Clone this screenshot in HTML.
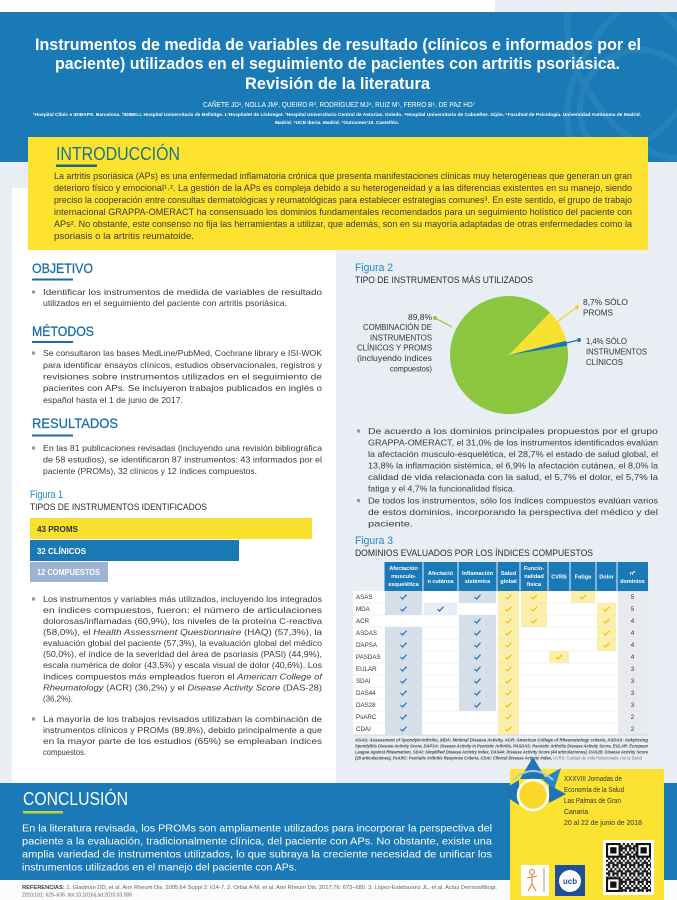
<!DOCTYPE html>
<html><head><meta charset="utf-8"><style>
html,body{margin:0;padding:0;background:#e9eef4;}
svg{display:block}
</style></head><body>
<svg width="677" height="900" viewBox="0 0 677 900" xmlns="http://www.w3.org/2000/svg">
<defs>
<style>
text{font-family:"Liberation Sans",sans-serif}
.ti{font-size:17px;font-weight:bold;fill:#fff}
.au{font-size:7px;fill:#fff}
.af{font-size:4.6px;font-weight:bold;fill:#fff}
.in{font-size:9px;fill:#3a3a3a}
.bd{font-size:8.4px;fill:#3a3a3a}
.h{font-size:14px;fill:#1a6ea8;stroke:#1a6ea8;stroke-width:0.3}
.fg{font-size:11px;fill:#1b8bc9}
.ft{font-size:9px;fill:#2b2b2b}
.bl{font-size:8px;font-weight:bold}
.pl{font-size:7.8px;fill:#333}
.th{font-size:5.6px;font-weight:bold;fill:#fff;text-anchor:middle}
.rl{font-size:6.2px;fill:#333}
.nd{font-size:6.2px;fill:#333;text-anchor:middle}
.fn{font-size:4.4px;font-weight:bold;font-style:italic;fill:#444}
.cc{font-size:10.5px;fill:#fff}
.rf{font-size:5px;fill:#666}
.cf{font-size:7.6px;fill:#333}
</style>
<clipPath id="hc"><rect x="0" y="12" width="677" height="150"/></clipPath>
<pattern id="qr" x="606" y="843" width="8.4" height="8.4" patternUnits="userSpaceOnUse">
<rect width="8.4" height="8.4" fill="#fff"/>
<rect x="0" y="0" width="2.1" height="2.1" fill="#111"/>
<rect x="4.2" y="0" width="2.1" height="4.2" fill="#111"/>
<rect x="2.1" y="2.1" width="2.1" height="2.1" fill="#111"/>
<rect x="6.3" y="2.1" width="2.1" height="2.1" fill="#111"/>
<rect x="0" y="4.2" width="4.2" height="2.1" fill="#111"/>
<rect x="6.3" y="4.2" width="2.1" height="4.2" fill="#111"/>
<rect x="2.1" y="6.3" width="2.1" height="2.1" fill="#111"/>
</pattern>
</defs>

<!-- background -->
<rect x="0" y="0" width="677" height="900" fill="#e9eef4"/>
<rect x="0" y="0" width="677" height="12" fill="#ffffff"/>
<rect x="495" y="0" width="182" height="12" fill="#eaeff5"/>

<!-- header -->
<rect x="0" y="12" width="677" height="150" fill="#1a7ab6"/>
<g clip-path="url(#hc)" fill="none" stroke="#ffffff" stroke-width="6" opacity="0.06">
<ellipse cx="640" cy="70" rx="55" ry="100" transform="rotate(35 640 70)"/>
<ellipse cx="640" cy="70" rx="55" ry="100" transform="rotate(-35 640 70)"/>
<circle cx="640" cy="110" r="60"/>
</g>
<text class="ti" x="35" y="50" textLength="606" lengthAdjust="spacingAndGlyphs">Instrumentos de medida de variables de resultado (clínicos e informados por el</text>
<text class="ti" x="55" y="69" textLength="565" lengthAdjust="spacingAndGlyphs">paciente) utilizados en el seguimiento de pacientes con artritis psoriásica.</text>
<text class="ti" x="245" y="89" textLength="185" lengthAdjust="spacingAndGlyphs">Revisión de la literatura</text>
<text class="au" x="203" y="107" textLength="272" lengthAdjust="spacingAndGlyphs">CAÑETE JD¹, NOLLA JM², QUEIRO R³, RODRÍGUEZ MJ⁴, RUIZ M⁵, FERRO B⁶, DE PAZ HD⁷</text>
<text class="af" x="33" y="116" textLength="608" lengthAdjust="spacingAndGlyphs">¹Hospital Clínic e IDIBAPS. Barcelona. ²IDIBELL Hospital Universitario de Bellvitge. L'Hospitalet de Llobregat. ³Hospital Universitario Central de Asturias. Oviedo. ⁴Hospital Universitario de Cabueñes. Gijón. ⁵Facultad de Psicología. Universidad Autónoma de Madrid.</text>
<text class="af" x="275" y="124" textLength="124" lengthAdjust="spacingAndGlyphs">Madrid. ⁶UCB Iberia. Madrid. ⁷Outcomes'10. Castellón.</text>

<!-- left white panel -->
<rect x="12" y="188" width="324" height="595" fill="#ffffff"/>

<!-- intro -->
<rect x="28" y="137" width="620" height="113" fill="#fde22f"/>
<text x="56" y="160" textLength="124" lengthAdjust="spacingAndGlyphs" style="font-size:18.5px;fill:#1b7391">INTRODUCCIÓN</text>
<rect x="56" y="164.5" width="41" height="2.5" fill="#1d6577"/>
<text class="in" x="54" y="179" textLength="578" lengthAdjust="spacingAndGlyphs">La artritis psoriásica (APs) es una enfermedad inflamatoria crónica que presenta manifestaciones clínicas muy heterogéneas que generan un gran</text>
<text class="in" x="54" y="191" textLength="578" lengthAdjust="spacingAndGlyphs">deterioro físico y emocional¹˒². La gestión de la APs es compleja debido a su heterogeneidad y a las diferencias existentes en su manejo, siendo</text>
<text class="in" x="54" y="203" textLength="578" lengthAdjust="spacingAndGlyphs">preciso la cooperación entre consultas dermatológicas y reumatológicas para establecer estrategias comunes³. En este sentido, el grupo de trabajo</text>
<text class="in" x="54" y="215" textLength="578" lengthAdjust="spacingAndGlyphs">internacional GRAPPA-OMERACT ha consensuado los dominios fundamentales recomendados para un seguimiento holístico del paciente con</text>
<text class="in" x="54" y="227" textLength="578" lengthAdjust="spacingAndGlyphs">APs². No obstante, este consenso no fija las herramientas a utilizar, que además, son en su mayoría adaptadas de otras enfermedades como la</text>
<text class="in" x="54" y="239" textLength="140" lengthAdjust="spacingAndGlyphs">psoriasis o la artritis reumatoide.</text>

<!-- OBJETIVO -->
<text class="h" x="32" y="273" textLength="61" lengthAdjust="spacingAndGlyphs">OBJETIVO</text>
<rect x="32" y="278.5" width="41" height="2" fill="#1a6ea8"/>
<rect x="32" y="290.5" width="3" height="3" fill="#8597ab"/>
<text class="bd" x="43" y="295" textLength="279" lengthAdjust="spacingAndGlyphs">Identificar los instrumentos de medida de variables de resultado</text>
<text class="bd" x="43" y="306" textLength="244" lengthAdjust="spacingAndGlyphs">utilizados en el seguimiento del paciente con artritis psoriásica.</text>

<!-- METODOS -->
<text class="h" x="32" y="336" textLength="62" lengthAdjust="spacingAndGlyphs">MÉTODOS</text>
<rect x="32" y="341" width="41" height="2" fill="#1a6ea8"/>
<rect x="32" y="351.5" width="3" height="3" fill="#8597ab"/>
<text class="bd" x="43" y="356" textLength="279" lengthAdjust="spacingAndGlyphs">Se consultaron las bases MedLine/PubMed, Cochrane library e ISI-WOK</text>
<text class="bd" x="43" y="368" textLength="279" lengthAdjust="spacingAndGlyphs">para identificar ensayos clínicos, estudios observacionales, registros y</text>
<text class="bd" x="43" y="379.5" textLength="279" lengthAdjust="spacingAndGlyphs">revisiones sobre instrumentos utilizados en el seguimiento de</text>
<text class="bd" x="43" y="391" textLength="279" lengthAdjust="spacingAndGlyphs">pacientes con APs. Se incluyeron trabajos publicados en inglés o</text>
<text class="bd" x="43" y="403" textLength="140" lengthAdjust="spacingAndGlyphs">español hasta el 1 de junio de 2017.</text>

<!-- RESULTADOS -->
<text class="h" x="32" y="428" textLength="86" lengthAdjust="spacingAndGlyphs">RESULTADOS</text>
<rect x="32" y="434.5" width="41" height="2" fill="#1a6ea8"/>
<rect x="32" y="446.5" width="3" height="3" fill="#8597ab"/>
<text class="bd" x="43" y="451" textLength="279" lengthAdjust="spacingAndGlyphs">En las 81 publicaciones revisadas (incluyendo una revisión bibliográfica</text>
<text class="bd" x="43" y="462.5" textLength="279" lengthAdjust="spacingAndGlyphs">de 58 estudios), se identificaron 87 instrumentos: 43 informados por el</text>
<text class="bd" x="43" y="474" textLength="214" lengthAdjust="spacingAndGlyphs">paciente (PROMs), 32 clínicos y 12 índices compuestos.</text>

<!-- Figura 1 -->
<text class="fg" x="30" y="498" textLength="33" lengthAdjust="spacingAndGlyphs">Figura 1</text>
<text class="ft" x="30" y="510" textLength="177" lengthAdjust="spacingAndGlyphs">TIPOS DE INSTRUMENTOS IDENTIFICADOS</text>
<rect x="30" y="518" width="282" height="21" fill="#f8e02c"/>
<rect x="30" y="540" width="209" height="21" fill="#1a78b4"/>
<rect x="30" y="562" width="78" height="20" fill="#9cb4d2"/>
<text class="bl" x="37" y="532" textLength="41" lengthAdjust="spacingAndGlyphs" style="fill:#333">43 PROMS</text>
<text class="bl" x="37" y="554" textLength="49" lengthAdjust="spacingAndGlyphs" style="fill:#fff">32 CLÍNICOS</text>
<text class="bl" x="37" y="575" textLength="63" lengthAdjust="spacingAndGlyphs" style="fill:#fff">12 COMPUESTOS</text>

<!-- resultados bullets -->
<rect x="32" y="597.5" width="3" height="3" fill="#8597ab"/>
<text class="bd" x="43" y="602" textLength="279" lengthAdjust="spacingAndGlyphs">Los instrumentos y variables más utilizados, incluyendo los integrados</text>
<text class="bd" x="43" y="613" textLength="279" lengthAdjust="spacingAndGlyphs">en índices compuestos, fueron: el número de articulaciones</text>
<text class="bd" x="43" y="624" textLength="279" lengthAdjust="spacingAndGlyphs">dolorosas/inflamadas (60,9%), los niveles de la proteína C-reactiva</text>
<text class="bd" x="43" y="635" textLength="279" lengthAdjust="spacingAndGlyphs">(58,0%), el <tspan font-style="italic">Health Assessment Questionnaire</tspan> (HAQ) (57,3%), la</text>
<text class="bd" x="43" y="646" textLength="279" lengthAdjust="spacingAndGlyphs">evaluación global del paciente (57,3%), la evaluación global del médico</text>
<text class="bd" x="43" y="657" textLength="279" lengthAdjust="spacingAndGlyphs">(50,0%), el índice de la severidad del área de psoriasis (PASI) (44,9%),</text>
<text class="bd" x="43" y="668" textLength="279" lengthAdjust="spacingAndGlyphs">escala numérica de dolor (43,5%) y escala visual de dolor (40,6%). Los</text>
<text class="bd" x="43" y="679.5" textLength="279" lengthAdjust="spacingAndGlyphs">índices compuestos más empleados fueron el <tspan font-style="italic">American College of</tspan></text>
<text class="bd" x="43" y="690.5" textLength="279" lengthAdjust="spacingAndGlyphs"><tspan font-style="italic">Rheumatology</tspan> (ACR) (36,2%) y el <tspan font-style="italic">Disease Activity Score</tspan> (DAS-28)</text>
<text class="bd" x="43" y="701.5" textLength="30" lengthAdjust="spacingAndGlyphs">(36,2%).</text>
<rect x="32" y="717.5" width="3" height="3" fill="#8597ab"/>
<text class="bd" x="43" y="722" textLength="279" lengthAdjust="spacingAndGlyphs">La mayoría de los trabajos revisados utilizaban la combinación de</text>
<text class="bd" x="43" y="733" textLength="279" lengthAdjust="spacingAndGlyphs">instrumentos clínicos y PROMs (89,8%), debido principalmente a que</text>
<text class="bd" x="43" y="744" textLength="279" lengthAdjust="spacingAndGlyphs">en la mayor parte de los estudios (65%) se empleaban índices</text>
<text class="bd" x="43" y="755" textLength="43" lengthAdjust="spacingAndGlyphs">compuestos.</text>

<!-- Figura 2 -->
<text class="fg" x="355" y="271" textLength="38" lengthAdjust="spacingAndGlyphs">Figura 2</text>
<text class="ft" x="355" y="283" textLength="178" lengthAdjust="spacingAndGlyphs">TIPO DE INSTRUMENTOS MÁS UTILIZADOS</text>
<path d="M509,355 L567.3,345.8 A59,59 0 1 1 550,312.6 Z" fill="#8cc63f"/>
<path d="M509,355 L550,312.6 A59,59 0 0 1 566.2,340.7 Z" fill="#f9e130"/>
<path d="M509,355 L566.2,340.7 A59,59 0 0 1 567.3,345.8 Z" fill="#1b76b2"/>
<line x1="557" y1="322" x2="577" y2="307" stroke="#f2d23a" stroke-width="1.2"/>
<circle cx="577" cy="307" r="2" fill="#f2d23a"/>
<line x1="566" y1="343" x2="579" y2="340" stroke="#1b76b2" stroke-width="1.2"/>
<circle cx="579" cy="340" r="2" fill="#1b76b2"/>
<line x1="435" y1="318" x2="452" y2="327" stroke="#8cc63f" stroke-width="1.2"/>
<circle cx="435" cy="318" r="2" fill="#8cc63f"/>
<text class="pl" x="583" y="305" textLength="45" lengthAdjust="spacingAndGlyphs">8,7% SÓLO</text>
<text class="pl" x="583" y="315.5" textLength="30" lengthAdjust="spacingAndGlyphs">PROMS</text>
<text class="pl" x="586" y="344" textLength="41" lengthAdjust="spacingAndGlyphs">1,4% SÓLO</text>
<text class="pl" x="586" y="354.5" textLength="61" lengthAdjust="spacingAndGlyphs">INSTRUMENTOS</text>
<text class="pl" x="586" y="365" textLength="37" lengthAdjust="spacingAndGlyphs">CLÍNICOS</text>
<text class="pl" x="408" y="320" textLength="24" lengthAdjust="spacingAndGlyphs">89,8%</text>
<text class="pl" x="363" y="330" textLength="69" lengthAdjust="spacingAndGlyphs">COMBINACIÓN DE</text>
<text class="pl" x="370" y="340.5" textLength="62" lengthAdjust="spacingAndGlyphs">INSTRUMENTOS</text>
<text class="pl" x="357" y="350.5" textLength="75" lengthAdjust="spacingAndGlyphs">CLÍNICOS Y PROMS</text>
<text class="pl" x="357" y="361" textLength="75" lengthAdjust="spacingAndGlyphs">(incluyendo índices</text>
<text class="pl" x="390" y="371.5" textLength="42" lengthAdjust="spacingAndGlyphs">compuestos)</text>

<!-- right bullets -->
<rect x="357" y="429.5" width="3" height="3" fill="#8597ab"/>
<text class="bd" x="368" y="434" textLength="290" lengthAdjust="spacingAndGlyphs">De acuerdo a los dominios principales propuestos por el grupo</text>
<text class="bd" x="368" y="445.5" textLength="290" lengthAdjust="spacingAndGlyphs">GRAPPA-OMERACT, el 31,0% de los instrumentos identificados evalúan</text>
<text class="bd" x="368" y="457" textLength="290" lengthAdjust="spacingAndGlyphs">la afectación musculo-esquelética, el 28,7% el estado de salud global, el</text>
<text class="bd" x="368" y="468.5" textLength="290" lengthAdjust="spacingAndGlyphs">13,8% la inflamación sistémica, el 6,9% la afectación cutánea, el 8,0% la</text>
<text class="bd" x="368" y="480" textLength="290" lengthAdjust="spacingAndGlyphs">calidad de vida relacionada con la salud, el 5,7% el dolor, el 5,7% la</text>
<text class="bd" x="368" y="491.5" textLength="147" lengthAdjust="spacingAndGlyphs">fatiga y el 4,7% la funcionalidad física.</text>
<rect x="357" y="499" width="3" height="3" fill="#8597ab"/>
<text class="bd" x="368" y="503.5" textLength="290" lengthAdjust="spacingAndGlyphs">De todos los instrumentos, sólo los índices compuestos evalúan varios</text>
<text class="bd" x="368" y="515" textLength="290" lengthAdjust="spacingAndGlyphs">de estos dominios, incorporando la perspectiva del médico y del</text>
<text class="bd" x="368" y="526.5" textLength="45" lengthAdjust="spacingAndGlyphs">paciente.</text>

<!-- Figura 3 -->
<text class="fg" x="355" y="544" textLength="38" lengthAdjust="spacingAndGlyphs">Figura 3</text>
<text class="ft" x="355" y="556" textLength="238" lengthAdjust="spacingAndGlyphs">DOMINIOS EVALUADOS POR LOS ÍNDICES COMPUESTOS</text>

<!-- table -->
<rect x="353" y="591" width="295" height="144" fill="#ffffff"/>
<g fill="#1a7ab8">
<rect x="384.5" y="562" width="38" height="29"/>
<rect x="423.5" y="562" width="34" height="29"/>
<rect x="458.5" y="562" width="38" height="29"/>
<rect x="497.5" y="562" width="22" height="29"/>
<rect x="520.5" y="562" width="27" height="29"/>
<rect x="548.5" y="562" width="21" height="29"/>
<rect x="570.5" y="562" width="25" height="29"/>
<rect x="596.5" y="562" width="20" height="29"/>
<rect x="617.5" y="562" width="30.5" height="29"/>
</g>
<text class="th" x="403.5" y="570">Afectación</text>
<text class="th" x="403.5" y="578">musculo-</text>
<text class="th" x="403.5" y="586">esquelética</text>
<text class="th" x="440.5" y="575">Afectació</text>
<text class="th" x="440.5" y="583">n cutánea</text>
<text class="th" x="477.5" y="575">Inflamación</text>
<text class="th" x="477.5" y="583">sistémica</text>
<text class="th" x="508.5" y="575">Salud</text>
<text class="th" x="508.5" y="583">global</text>
<text class="th" x="534" y="570">Funcio-</text>
<text class="th" x="534" y="578">nalidad</text>
<text class="th" x="534" y="586">física</text>
<text class="th" x="559" y="578.5">CVRS</text>
<text class="th" x="583" y="578.5">Fatiga</text>
<text class="th" x="606.5" y="578.5">Dolor</text>
<text class="th" x="632.5" y="575">nº</text>
<text class="th" x="632.5" y="583">dominios</text>

<!-- cell backgrounds -->
<rect x="618" y="591" width="30" height="144" fill="#e8eaee"/>
<g fill="#d5dfea">
<rect x="385" y="591" width="37" height="24"/>
<rect x="385" y="627" width="37" height="108"/>
<rect x="459" y="591" width="37" height="12"/>
<rect x="459" y="615" width="37" height="96"/>
</g>
<rect x="424" y="603" width="33" height="12" fill="#e9eef5"/>
<g fill="#fcefa8">
<rect x="498" y="591" width="21" height="144"/>
<rect x="521" y="591" width="26" height="36"/>
<rect x="549" y="651" width="20" height="12"/>
<rect x="571" y="591" width="24" height="12"/>
<rect x="597" y="603" width="19" height="48"/>
</g>
<g stroke="#e1e6ec" stroke-width="0.6">
<line x1="353" y1="603" x2="648" y2="603"/><line x1="353" y1="615" x2="648" y2="615"/>
<line x1="353" y1="627" x2="648" y2="627"/><line x1="353" y1="639" x2="648" y2="639"/>
<line x1="353" y1="651" x2="648" y2="651"/><line x1="353" y1="663" x2="648" y2="663"/>
<line x1="353" y1="675" x2="648" y2="675"/><line x1="353" y1="687" x2="648" y2="687"/>
<line x1="353" y1="699" x2="648" y2="699"/><line x1="353" y1="711" x2="648" y2="711"/>
<line x1="353" y1="723" x2="648" y2="723"/>
</g>
<line x1="353" y1="735" x2="648" y2="735" stroke="#c6d1dd" stroke-width="0.8"/>

<!-- checks -->
<path fill="none" stroke="#2a6fb0" stroke-width="1.2" d="
M400.5,597l2,2l4,-4.3 M400.5,609l2,2l4,-4.3 M400.5,633l2,2l4,-4.3 M400.5,645l2,2l4,-4.3 M400.5,657l2,2l4,-4.3 M400.5,669l2,2l4,-4.3 M400.5,681l2,2l4,-4.3 M400.5,693l2,2l4,-4.3 M400.5,705l2,2l4,-4.3 M400.5,717l2,2l4,-4.3 M400.5,729l2,2l4,-4.3
M437.5,609l2,2l4,-4.3
M474.5,597l2,2l4,-4.3 M474.5,621l2,2l4,-4.3 M474.5,633l2,2l4,-4.3 M474.5,645l2,2l4,-4.3 M474.5,657l2,2l4,-4.3 M474.5,669l2,2l4,-4.3 M474.5,681l2,2l4,-4.3 M474.5,693l2,2l4,-4.3 M474.5,705l2,2l4,-4.3"/>
<path fill="none" stroke="#eec11c" stroke-width="1.2" d="
M505.5,597l2,2l4,-4.3 M505.5,609l2,2l4,-4.3 M505.5,621l2,2l4,-4.3 M505.5,633l2,2l4,-4.3 M505.5,645l2,2l4,-4.3 M505.5,657l2,2l4,-4.3 M505.5,669l2,2l4,-4.3 M505.5,681l2,2l4,-4.3 M505.5,693l2,2l4,-4.3 M505.5,705l2,2l4,-4.3 M505.5,717l2,2l4,-4.3 M505.5,729l2,2l4,-4.3
M531,597l2,2l4,-4.3 M531,609l2,2l4,-4.3 M531,621l2,2l4,-4.3
M556,657l2,2l4,-4.3
M580,597l2,2l4,-4.3
M603.5,609l2,2l4,-4.3 M603.5,621l2,2l4,-4.3 M603.5,633l2,2l4,-4.3 M603.5,645l2,2l4,-4.3"/>

<!-- row labels -->
<text class="rl" x="356" y="599.2">ASAS</text>
<text class="rl" x="356" y="611.2">MDA</text>
<text class="rl" x="356" y="623.2">ACR</text>
<text class="rl" x="356" y="635.2">ASDAS</text>
<text class="rl" x="356" y="647.2">DAPSA</text>
<text class="rl" x="356" y="659.2">PASDAS</text>
<text class="rl" x="356" y="671.2">EULAR</text>
<text class="rl" x="356" y="683.2">SDAI</text>
<text class="rl" x="356" y="695.2">DAS44</text>
<text class="rl" x="356" y="707.2">DAS28</text>
<text class="rl" x="356" y="719.2">PsARC</text>
<text class="rl" x="356" y="731.2">CDAI</text>
<text class="nd" x="632.5" y="599.2">5</text>
<text class="nd" x="632.5" y="611.2">5</text>
<text class="nd" x="632.5" y="623.2">4</text>
<text class="nd" x="632.5" y="635.2">4</text>
<text class="nd" x="632.5" y="647.2">4</text>
<text class="nd" x="632.5" y="659.2">4</text>
<text class="nd" x="632.5" y="671.2">3</text>
<text class="nd" x="632.5" y="683.2">3</text>
<text class="nd" x="632.5" y="695.2">3</text>
<text class="nd" x="632.5" y="707.2">3</text>
<text class="nd" x="632.5" y="719.2">2</text>
<text class="nd" x="632.5" y="731.2">2</text>

<!-- footnote -->
<text class="fn" x="355" y="741.5" textLength="293" lengthAdjust="spacingAndGlyphs">ASAS: Assessment of SpondyloArthritis, MDA: Minimal Disease Activity, ACR: American College of Rheumatology criteria, ASDAS: Ankylosing</text>
<text class="fn" x="355" y="747.5" textLength="293" lengthAdjust="spacingAndGlyphs">Spondylitis Disease Activity Score, DAPSA: Disease Activity in Psoriatic Arthritis, PASDAS: Psoriatic Arthritis Disease Activity Score, EULAR: European</text>
<text class="fn" x="355" y="753.5" textLength="293" lengthAdjust="spacingAndGlyphs">League Against Rheumatism, SDAI: Simplified Disease Activity Index, DAS44: Disease Activity Score (44 articulaciones), DAS28: Disease Activity Score</text>
<text class="fn" x="355" y="759.5" textLength="287" lengthAdjust="spacingAndGlyphs">(28 articulaciones), PsARC: Psoriatic Arthritis Response Criteria, CDAI: Clinical Disease Activity Index, <tspan style="font-style:normal;font-weight:normal;fill:#777">CVRS: Calidad de Vida Relacionada con la Salud</tspan></text>

<!-- bottom area -->
<rect x="0" y="880" width="677" height="20" fill="#fafbfc"/>
<rect x="0" y="783" width="677" height="97" fill="#1a79b6"/>
<text x="23" y="805" textLength="105" lengthAdjust="spacingAndGlyphs" style="font-size:18.5px;fill:#fff">CONCLUSIÓN</text>
<rect x="23" y="811" width="40" height="2.5" fill="#c2cf3a"/>
<text class="cc" x="22" y="831.5" textLength="470" lengthAdjust="spacingAndGlyphs">En la literatura revisada, los PROMs son ampliamente utilizados para incorporar la perspectiva del</text>
<text class="cc" x="22" y="844.5" textLength="470" lengthAdjust="spacingAndGlyphs">paciente a la evaluación, tradicionalmente clínica, del paciente con APs. No obstante, existe una</text>
<text class="cc" x="22" y="857.5" textLength="470" lengthAdjust="spacingAndGlyphs">amplia variedad de instrumentos utilizados, lo que subraya la creciente necesidad de unificar los</text>
<text class="cc" x="22" y="870.5" textLength="275" lengthAdjust="spacingAndGlyphs">instrumentos utilizados en el manejo del paciente con APs.</text>
<text class="rf" x="22" y="889" textLength="475" lengthAdjust="spacingAndGlyphs"><tspan font-weight="bold" fill="#444">REFERENCIAS:</tspan> 1. Gladman DD, et al. Ann Rheum Dis. 2005;64 Suppl 2: ii14-7. 2. Orbai A-M, et al. Ann Rheum Dis. 2017;76: 673–680. 3. López-Estebaranz JL, et al. Actas Dermosifiliogr.</text>
<text class="rf" x="22" y="896.5" textLength="110" lengthAdjust="spacingAndGlyphs">2010;101: 629–636. doi:10.1016/j.ad.2010.03.006</text>

<!-- conference box -->
<rect x="510" y="769" width="154" height="131" fill="#fde331"/>
<path d="M533,757 L546,779 L520,779 Z" fill="#1f74b5"/>
<path d="M499,792 L519,780 L519,805 Z" fill="#1f74b5"/>
<path d="M561,768 L554,790 L542,779 Z" fill="#2a86c5"/>
<path d="M566,794 L549,785 L549,803 Z" fill="#1f74b5"/>
<path d="M513,780 Q533,762 553,780" fill="none" stroke="#a9c9e6" stroke-width="2"/>
<circle cx="533" cy="795" r="15" fill="#fbd92a" stroke="#ffffff" stroke-width="2.5"/>
<text class="cf" x="564" y="781" textLength="58" lengthAdjust="spacingAndGlyphs">XXXVIII Jornadas de</text>
<text class="cf" x="564" y="792" textLength="60" lengthAdjust="spacingAndGlyphs">Economía de la Salud</text>
<text class="cf" x="564" y="803" textLength="57" lengthAdjust="spacingAndGlyphs">Las Palmas de Gran</text>
<text class="cf" x="564" y="814" textLength="24" lengthAdjust="spacingAndGlyphs">Canaria</text>
<text class="cf" x="564" y="825" textLength="78" lengthAdjust="spacingAndGlyphs">20 al 22 de junio de 2018</text>
<!-- QR -->
<rect x="603" y="840" width="51" height="55" fill="#ffffff"/>
<rect x="606" y="843" width="45" height="49" fill="url(#qr)"/>
<g>
<rect x="606" y="843" width="14.7" height="14.7" fill="#111"/><rect x="608.1" y="845.1" width="10.5" height="10.5" fill="#fff"/><rect x="610.2" y="847.2" width="6.3" height="6.3" fill="#111"/>
<rect x="636.3" y="843" width="14.7" height="14.7" fill="#111"/><rect x="638.4" y="845.1" width="10.5" height="10.5" fill="#fff"/><rect x="640.5" y="847.2" width="6.3" height="6.3" fill="#111"/>
<rect x="606" y="877.3" width="14.7" height="14.7" fill="#111"/><rect x="608.1" y="879.4" width="10.5" height="10.5" fill="#fff"/><rect x="610.2" y="881.5" width="6.3" height="6.3" fill="#111"/>
</g>
<!-- sponsor logos -->
<rect x="521" y="865" width="28" height="31" fill="#ffffff"/>
<g stroke="#e8762d" stroke-width="1" fill="none">
<circle cx="532" cy="872" r="2.5"/>
<line x1="532" y1="874.5" x2="532" y2="884"/>
<line x1="527" y1="878" x2="537" y2="876"/>
<line x1="532" y1="884" x2="528" y2="891"/>
<line x1="532" y1="884" x2="536" y2="891"/>
</g>
<line x1="544" y1="868" x2="544" y2="892" stroke="#c9a0a0" stroke-width="1.2"/>
<rect x="555" y="865" width="30" height="31" fill="#1e4f9a"/>
<circle cx="570" cy="881" r="11" fill="#ffffff"/>
<text x="570" y="884" text-anchor="middle" style="font-size:8px;font-weight:bold;fill:#1e4f9a">ucb</text>
</svg>
</body></html>
